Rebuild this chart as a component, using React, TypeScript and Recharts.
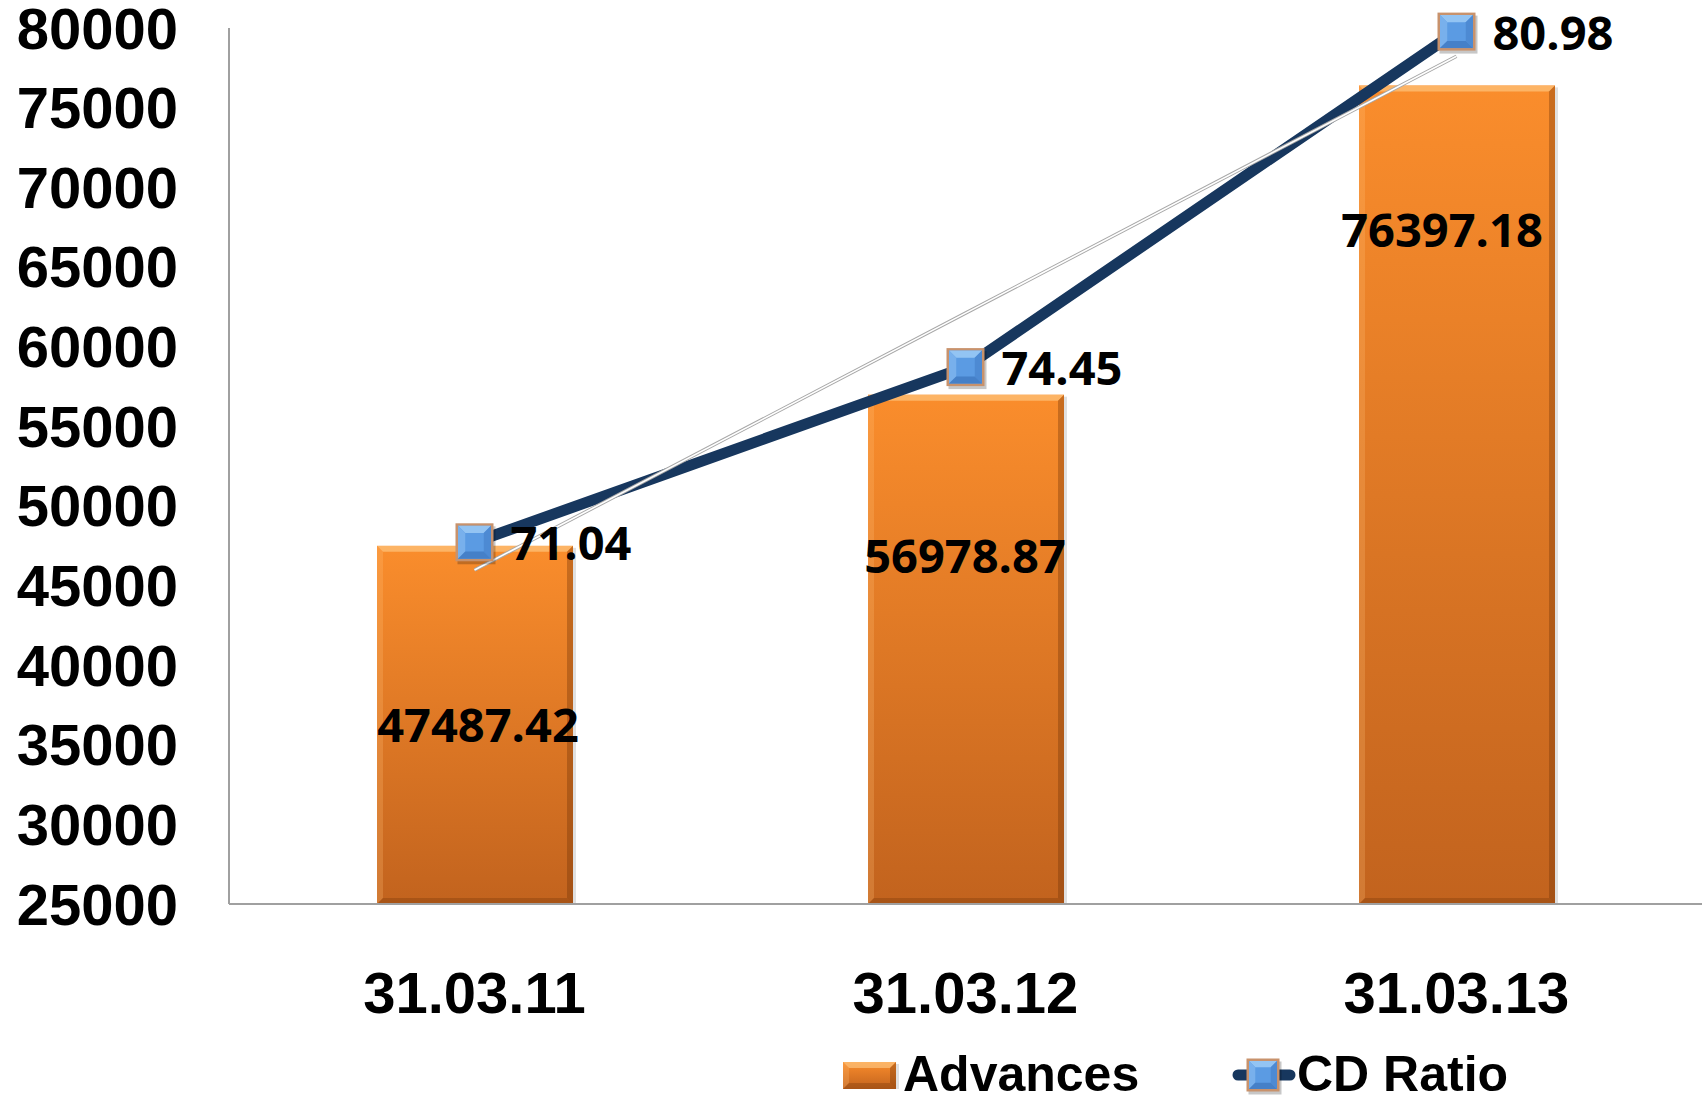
import React from 'react';
import { ComposedChart, Bar, Line, XAxis, YAxis, LabelList } from 'recharts';

const dates = ['31.03.11', '31.03.12', '31.03.13'];
const advances = [47487.42, 56978.87, 76397.18];
const cdRatio = [71.04, 74.45, 80.98];
// linear trend of CD ratio
const cdTrend = [70.5, 75.5, 80.5];
const yTicks = [25000, 30000, 35000, 40000, 45000, 50000, 55000, 60000, 65000, 70000, 75000, 80000];

// manual label nudges inside the bars (as placed in the original)
const barLabelDy = [178, 160, 144];
const barLabelDx = [3, -1, -15];

const data = dates.map((d, i) => ({ date: d, adv: advances[i], cd: cdRatio[i], trend: cdTrend[i] }));

const ARIAL = '"Liberation Sans", Arial, sans-serif';
const LABEL_FONT = '"Open Sans", "Noto Sans", sans-serif';
const NAVY = '#17375E';

function BevelBar(props: any) {
    const { x, y, width, height } = props;
    if (!height || height <= 0) return null;
    const b = 6;
    return (
        <g>
            <rect x={x + 3} y={y + 2} width={width} height={height - 2} fill="rgba(0,0,0,0.12)" />
            <rect x={x} y={y} width={width} height={height} fill="url(#advGrad)" />
            <polygon
                points={`${x},${y} ${x + width},${y} ${x + width - b},${y + b} ${x + b},${y + b}`}
                fill="rgba(255,214,150,0.55)"
            />
            <polygon
                points={`${x},${y} ${x + b},${y + b} ${x + b},${y + height - b} ${x},${y + height}`}
                fill="rgba(255,190,120,0.25)"
            />
            <polygon
                points={`${x + width},${y} ${x + width},${y + height} ${x + width - b},${y + height - b} ${x + width - b},${y + b}`}
                fill="rgba(110,50,5,0.35)"
            />
            <polygon
                points={`${x},${y + height} ${x + width},${y + height} ${x + width - b},${y + height - b} ${x + b},${y + height - b}`}
                fill="rgba(110,50,5,0.3)"
            />
        </g>
    );
}

function SquareMarker({ cx, cy, s = 38 }: { cx: number; cy: number; s?: number }) {
    const h = s / 2;
    const bw = 2.5;
    const i = h - bw;
    const b = s * 0.19;
    const L = cx - i, R = cx + i, T = cy - i, B = cy + i;
    return (
        <g>
            <rect x={cx - h + 2} y={cy - h + 3} width={s} height={s} fill="rgba(0,0,0,0.22)" />
            <rect x={cx - h} y={cy - h} width={s} height={s} fill="#C8926C" />
            <rect x={L} y={T} width={2 * i} height={2 * i} fill="#5B9BE3" />
            <polygon points={`${L},${T} ${R},${T} ${R - b},${T + b} ${L + b},${T + b}`} fill="#93C4F3" />
            <polygon points={`${L},${T} ${L + b},${T + b} ${L + b},${B - b} ${L},${B}`} fill="#78B0EC" />
            <polygon points={`${R},${T} ${R},${B} ${R - b},${B - b} ${R - b},${T + b}`} fill="#4D8AD3" />
            <polygon points={`${L},${B} ${R},${B} ${R - b},${B - b} ${L + b},${B - b}`} fill="#4580C8" />
        </g>
    );
}

function CdDot(props: any) {
    const { cx, cy, index } = props;
    if (cx == null || cy == null) return null;
    return <SquareMarker key={`dot-${index}`} cx={cx} cy={cy} />;
}

function CdLabel(props: any) {
    const { x, y, value } = props;
    return (
        <text x={x + 36} y={y} dominantBaseline="central" textAnchor="start"
            fontFamily={LABEL_FONT} fontWeight={700} fontSize={47} fill="#000">
            {Number(value).toFixed(2)}
        </text>
    );
}

function AdvLabel(props: any) {
    const { x, y, width, value, index } = props;
    return (
        <text x={x + width / 2 + barLabelDx[index]} y={y + barLabelDy[index]} dominantBaseline="central"
            textAnchor="middle" fontFamily={LABEL_FONT} fontWeight={700} fontSize={47} fill="#000">
            {Number(value).toFixed(2)}
        </text>
    );
}

function ChartLegend() {
    const cy = 1074;
    return (
        <svg width={1702} height={1097} style={{ position: 'absolute', left: 0, top: 0, pointerEvents: 'none' }}>
            <BevelBar x={843} y={1062} width={53} height={27} />
            <text x={903} y={cy} dominantBaseline="central" fontFamily={ARIAL} fontWeight={700} fontSize={50} fill="#000">
                Advances
            </text>
            <line x1={1238} y1={cy + 1} x2={1290} y2={cy + 1} stroke={NAVY} strokeWidth={11} strokeLinecap="round" />
            <SquareMarker cx={1263} cy={cy + 1} s={33} />
            <text x={1297} y={cy} dominantBaseline="central" fontFamily={ARIAL} fontWeight={700} fontSize={50} fill="#000">
                CD Ratio
            </text>
        </svg>
    );
}

export default function App() {
    return (
        <div style={{ position: 'absolute', left: 0, top: 0, width: 1702, height: 1097, background: '#fff' }}>
            <ComposedChart width={1702} height={1097} data={data} margin={{ top: 28, right: 0, bottom: 93, left: 0 }}>
                <defs>
                    <linearGradient id="advGrad" x1="0" y1="0" x2="0" y2="1">
                        <stop offset="0%" stopColor="#FA8D2C" />
                        <stop offset="100%" stopColor="#C2631E" />
                    </linearGradient>
                </defs>
                <XAxis
                    dataKey="date"
                    height={100}
                    tickSize={0}
                    tickMargin={68}
                    axisLine={{ stroke: '#A0A0A0', strokeWidth: 2 }}
                    tick={{ fontSize: 58, fontWeight: 700, fill: '#000', fontFamily: ARIAL }}
                />
                <YAxis
                    yAxisId="left"
                    width={229}
                    domain={[25000, 80000]}
                    ticks={yTicks}
                    interval={0}
                    tickSize={0}
                    tickMargin={51}
                    axisLine={{ stroke: '#A0A0A0', strokeWidth: 2 }}
                    tick={{ fontSize: 58, fontWeight: 700, fill: '#000', fontFamily: ARIAL }}
                />
                <YAxis yAxisId="right" orientation="right" hide width={0} domain={[64, 81.05]} />
                <Bar yAxisId="left" dataKey="adv" name="Advances" barSize={196} shape={<BevelBar />} isAnimationActive={false}>
                    <LabelList dataKey="adv" content={<AdvLabel />} />
                </Bar>
                <Line
                    yAxisId="right"
                    dataKey="cd"
                    name="CD Ratio"
                    stroke={NAVY}
                    strokeWidth={11}
                    dot={<CdDot />}
                    activeDot={false}
                    isAnimationActive={false}
                >
                    <LabelList dataKey="cd" content={<CdLabel />} />
                </Line>
                <Line yAxisId="right" dataKey="trend" stroke="#A8A8A8" strokeWidth={3.5} dot={false} activeDot={false} isAnimationActive={false} legendType="none" />
                <Line yAxisId="right" dataKey="trend" stroke="#FFFFFF" strokeWidth={1.6} dot={false} activeDot={false} isAnimationActive={false} legendType="none" />
            </ComposedChart>
            <ChartLegend />
        </div>
    );
}
